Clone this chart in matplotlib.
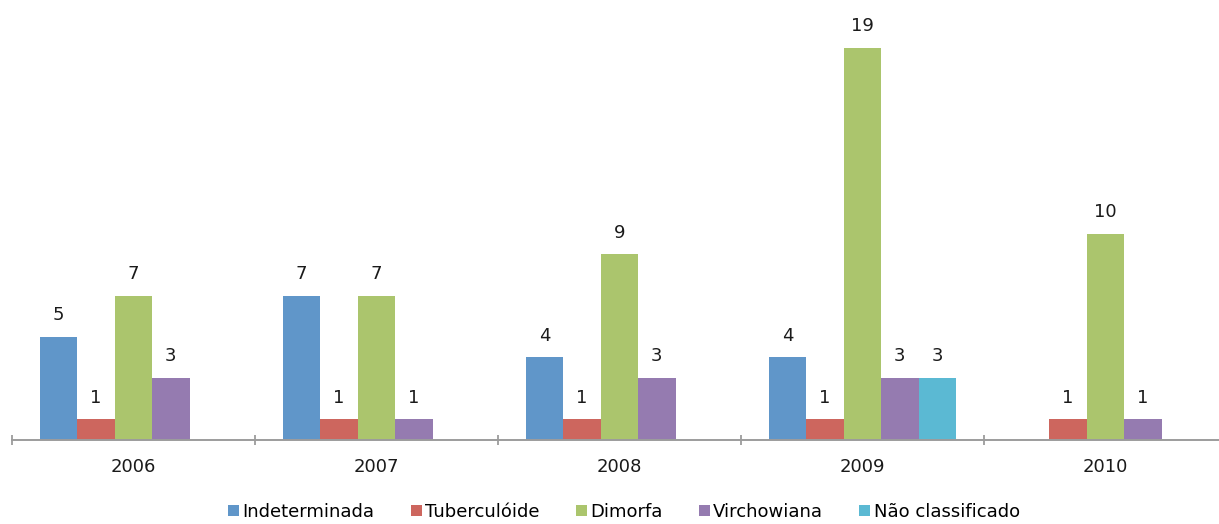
import numpy as np
import matplotlib
matplotlib.use("Agg")
from matplotlib import pyplot as plt

years = ["2006", "2007", "2008", "2009", "2010"]
series = ["Indeterminada", "Tuberculóide", "Dimorfa", "Virchowiana", "Não classificado"]
indeterminada = [5, 7, 4, 4, 0]
tuberculoide = [1, 1, 1, 1, 1]
dimorfa = [7, 7, 9, 19, 10]
virchowiana = [3, 1, 3, 3, 1]
nao_classificado = [0, 0, 0, 3, 0]
colors = ["#6096C9", "#CD665E", "#ABC56D", "#957BB0", "#5BB9D3"]

values = [indeterminada, tuberculoide, dimorfa, virchowiana, nao_classificado]

fig = plt.figure(figsize=(12.19, 5.24), dpi=100)
# axis runs a little past the right edge of the picture, like the original
ax = fig.add_axes([12/1219, 84/524, 1215/1219, 412.6/524])

x = np.arange(len(years))
w = 0.154
for i, (name, vals, c) in enumerate(zip(series, values, colors)):
    pos = x + (i - 2) * w
    ax.bar(pos, vals, w, color=c, label=name, linewidth=0)
    for p, v in zip(pos, vals):
        if v > 0:
            ax.annotate(str(v), (p, v), xytext=(0, 12), textcoords="offset points",
                        ha="center", va="baseline", fontsize=13, color="#1a1a1a")

ax.set_xlim(-0.5, 4.5)
ax.set_ylim(0, 20)
for s in ["top", "right", "left"]:
    ax.spines[s].set_visible(False)
ax.spines["bottom"].set_color("#9C9C9C")
ax.spines["bottom"].set_linewidth(1.4)
ax.set_yticks([])
ax.set_xticks(x)
ax.set_xticklabels(years, fontsize=13, color="#1a1a1a")
ax.tick_params(axis="x", which="major", length=0, pad=13)
ax.set_xticks(np.arange(-0.5, 4.0, 1.0), minor=True)
ax.tick_params(axis="x", which="minor", direction="inout", length=7, width=1.3, color="#9C9C9C")

fig.legend(loc="lower center", bbox_to_anchor=(0.512, -0.008), ncol=5, frameon=False,
           fontsize=13, handlelength=0.6, handleheight=0.6, handletextpad=0.2,
           columnspacing=2.0, borderaxespad=0)

fig.savefig("out.png", dpi=100)
